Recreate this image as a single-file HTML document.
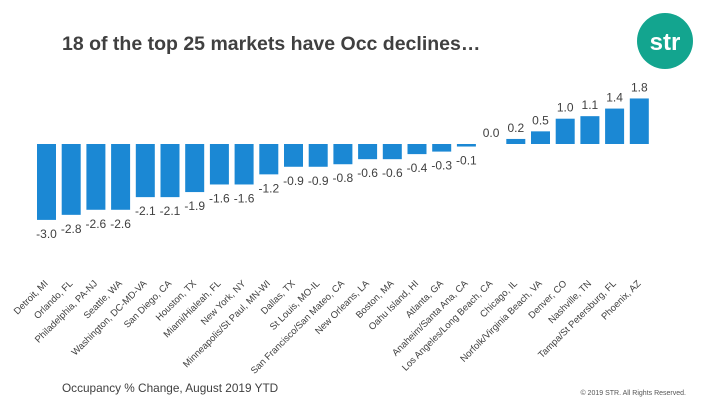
<!DOCTYPE html>
<html><head><meta charset="utf-8"><style>
body{margin:0;width:720px;height:405px;background:#fff;overflow:hidden;font-family:"Liberation Sans",sans-serif}
</style></head><body>
<svg width="720" height="405">
<text x="62" y="50" font-size="19.5" font-weight="bold" fill="#404040">18 of the top 25 markets have Occ declines…</text>
<g><circle cx="665" cy="41" r="28" fill="#13a58f"/><text x="665" y="50" text-anchor="middle" font-size="24" font-weight="bold" fill="#fff">str</text></g>
<g id="bars"></g>
<text x="62" y="392" font-size="11.8" fill="#404040">Occupancy % Change, August 2019 YTD</text>
<text x="686" y="395" text-anchor="end" font-size="7" fill="#555">© 2019 STR. All Rights Reserved.</text>
</svg>
<script>
const categories=["Detroit, MI","Orlando, FL","Philadelphia, PA-NJ","Seattle, WA","Washington, DC-MD-VA","San Diego, CA","Houston, TX","Miami/Hialeah, FL","New York, NY","Minneapolis/St Paul, MN-WI","Dallas, TX","St Louis, MO-IL","San Francisco/San Mateo, CA","New Orleans, LA","Boston, MA","Oahu Island, HI","Atlanta, GA","Anaheim/Santa Ana, CA","Los Angeles/Long Beach, CA","Chicago, IL","Norfolk/Virginia Beach, VA","Denver, CO","Nashville, TN","Tampa/St Petersburg, FL","Phoenix, AZ"];
const values=[-3.0,-2.8,-2.6,-2.6,-2.1,-2.1,-1.9,-1.6,-1.6,-1.2,-0.9,-0.9,-0.8,-0.6,-0.6,-0.4,-0.3,-0.1,0.0,0.2,0.5,1.0,1.1,1.4,1.8];
const NS="http://www.w3.org/2000/svg";
const g=document.getElementById('bars');
const x=i=>46.5+i*24.7;
const y=v=>144-v*25.3;
function mk(t,a){const e=document.createElementNS(NS,t);for(const k in a)e.setAttribute(k,a[k]);g.appendChild(e);return e;}
values.forEach((v,i)=>{
 const r=mk('rect',{x:x(i)-9.5,y:Math.min(y(v),y(0)),width:19,height:Math.max(Math.abs(y(v)-y(0)),v===0?0:1),fill:'#1b88d4'});
 
 
 const ly=v<0?y(v)+18:y(v)-7;
 const t=mk('text',{x:x(i),y:ly,'text-anchor':'middle','font-size':12,fill:'#404040'});
 t.textContent=v.toFixed(1);
 
 
 const c=mk('text',{x:x(i)+2,y:284,'text-anchor':'end','font-size':9.5,fill:'#404040',transform:`rotate(-45 ${x(i)+2} 284)`});
 c.textContent=categories[i];
 
 
});
</script>
</body></html>
